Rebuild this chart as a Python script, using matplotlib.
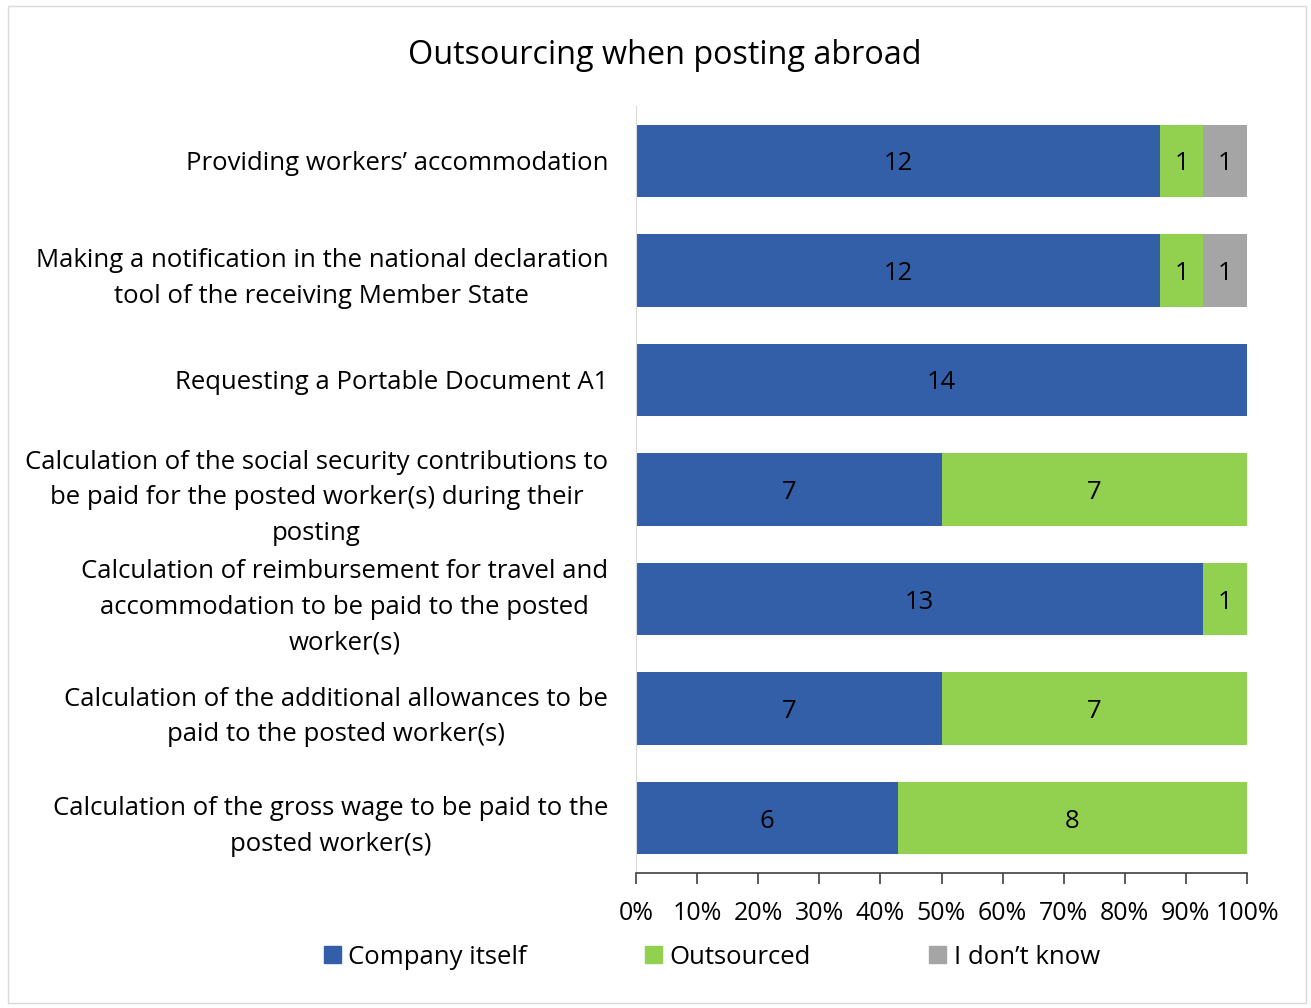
import matplotlib
matplotlib.use("Agg")
import matplotlib.pyplot as plt
from matplotlib.patches import Patch, Rectangle
from matplotlib.ticker import PercentFormatter
import numpy as np

plt.rcParams['font.family'] = ['Open Sans', 'DejaVu Sans']

categories = [
    "Providing workers\u2019 accommodation",
    "Making a notification in the national declaration\ntool of the receiving Member State",
    "Requesting a Portable Document A1",
    "Calculation of the social security contributions to\nbe paid for the posted worker(s) during their\nposting",
    "Calculation of reimbursement for travel and\naccommodation to be paid to the posted\nworker(s)",
    "Calculation of the additional allowances to be\npaid to the posted worker(s)",
    "Calculation of the gross wage to be paid to the\nposted worker(s)",
]
series_names = ["Company itself", "Outsourced", "I don\u2019t know"]
company = [12, 12, 14, 7, 13, 7, 6]
outsourced = [1, 1, 0, 7, 1, 7, 8]
dont_know = [1, 1, 0, 0, 0, 0, 0]
colors = ["#335FA8", "#92D050", "#A5A5A5"]
xticks = [0, 10, 20, 30, 40, 50, 60, 70, 80, 90, 100]

W, H = 1311, 1008
fig = plt.figure(figsize=(W / 100, H / 100), dpi=100)
ax = fig.add_axes([636 / W, 1 - 873 / H, (1247 - 636) / W, (873 - 106) / H])

data = np.array([company, outsourced, dont_know], dtype=float)
totals = data.sum(axis=0)
pct = data / totals * 100
y = np.arange(len(categories))
left = np.zeros(len(categories))
fs = 18.5
for i, name in enumerate(series_names):
    bars = ax.barh(y, pct[i], left=left, height=0.66, color=colors[i], label=name)
    for j, b in enumerate(bars):
        if data[i][j] > 0:
            ax.text(left[j] + pct[i][j] / 2, y[j], f"{int(data[i][j])}",
                    ha='center', va='center_baseline', fontsize=fs, color='black')
    left += pct[i]

ax.set_ylim(len(categories) - 0.5, -0.5)
ax.set_xlim(0, 100)
ax.set_yticks(y)
ax.set_yticklabels(categories, fontsize=fs)
for lbl in ax.get_yticklabels():
    lbl.set_multialignment('center')
    lbl.set_linespacing(1.55)
ax.tick_params(axis='y', length=0, pad=20)
ax.set_xticks(xticks)
ax.xaxis.set_major_formatter(PercentFormatter(decimals=0))
ax.tick_params(axis='x', length=8, width=1.2, color='#404040', labelsize=18, pad=12, direction='out')

for s in ['top', 'right']:
    ax.spines[s].set_visible(False)
ax.spines['left'].set_color('#D9D9D9')
ax.spines['bottom'].set_color('#404040')
ax.spines['bottom'].set_linewidth(1.2)

fig.text(665 / W, 1 - 56 / H, "Outsourcing when posting abroad", ha='center', va='center', fontsize=23.3)

handles = [Patch(color=c) for c in colors]
fig.legend(handles, series_names, loc='center', bbox_to_anchor=(712 / W, 1 - 957 / H), ncol=3,
           frameon=False, fontsize=fs, handlelength=0.65, handleheight=0.65, handletextpad=0.3,
           columnspacing=4.6)

fig.patches.append(Rectangle((8 / W, 1 - 1003 / H), (1306 - 8) / W, (1003 - 6) / H,
                             transform=fig.transFigure, fill=False, edgecolor='#D9D9D9', linewidth=1))

fig.savefig("out.png", dpi=100)
